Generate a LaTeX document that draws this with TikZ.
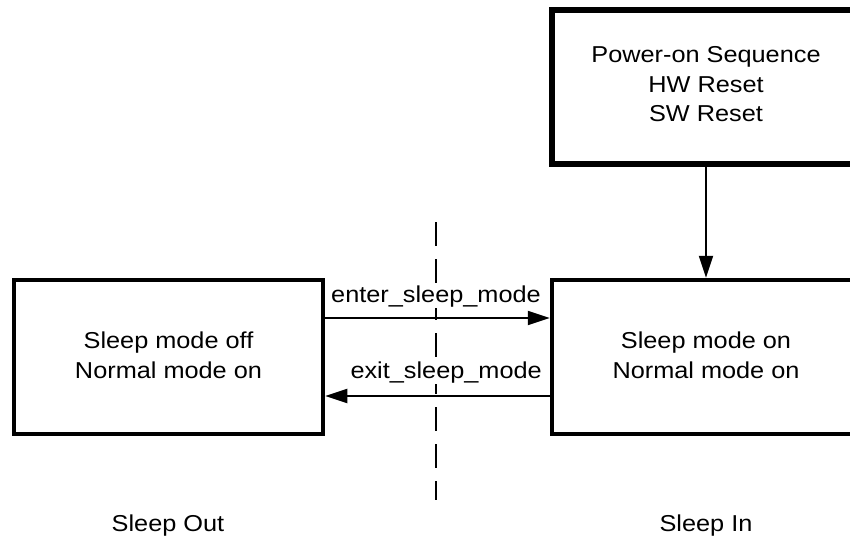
\documentclass[tikz,border=0pt]{standalone}
\usepackage{fontspec}
\setmainfont{Liberation Sans}[FakeStretch=1.1]
\usetikzlibrary{arrows.meta}
\newcommand{\dropdepth}[1]{\rule[-#1]{0pt}{0pt}}
\begin{document}
\begin{tikzpicture}[x=1pt,y=-1pt,
  every node/.style={font=\fontsize{23}{29.5}\selectfont},
  statebox/.style={draw=black, line width=4.5pt, inner sep=0pt, align=center,
    minimum width=309pt, minimum height=154pt},
  topbox/.style={draw=black, line width=6pt, inner sep=0pt, align=center,
    minimum width=308pt, minimum height=154pt},
  conn/.style={line width=2pt, -{Triangle[length=22pt,width=14pt]}},
  lbl/.style={inner sep=0pt},
  arrlbl/.style={fill=white, inner sep=1pt}
]
\clip (0,0) rectangle (850,539);
\node[topbox] (top) at (706,87) {Power-on Sequence\\HW Reset\\SW Reset\dropdepth{6pt}};
\node[statebox] (left) at (168.5,357) {Sleep mode off\\Normal mode on\dropdepth{4pt}};
\node[statebox, minimum width=308pt] (right) at (706,357) {Sleep mode on\\Normal mode on\dropdepth{4pt}};
\coordinate (dtop) at (436,222);
\coordinate (dbot) at (436,500);
\draw[line width=1.3pt, dash pattern=on 24pt off 13pt] (dtop) -- (dbot);
\draw[conn] (top.south) -- (right.north);
\draw[conn] ([yshift=39pt]left.east) -- ([yshift=39pt]right.west);
\draw[conn] ([yshift=-39pt]right.west) -- ([yshift=-39pt]left.east);
\node[arrlbl, anchor=base] (enter) at (436,302) {enter\_sleep\_mode};
\node[arrlbl, anchor=base east] (exit) at (543,378) {exit\_sleep\_mode};
\node[lbl, anchor=base] (sout) at (168,531) {Sleep Out};
\node[lbl, anchor=base] (sin) at (706,531) {Sleep In};
\end{tikzpicture}
\end{document}
